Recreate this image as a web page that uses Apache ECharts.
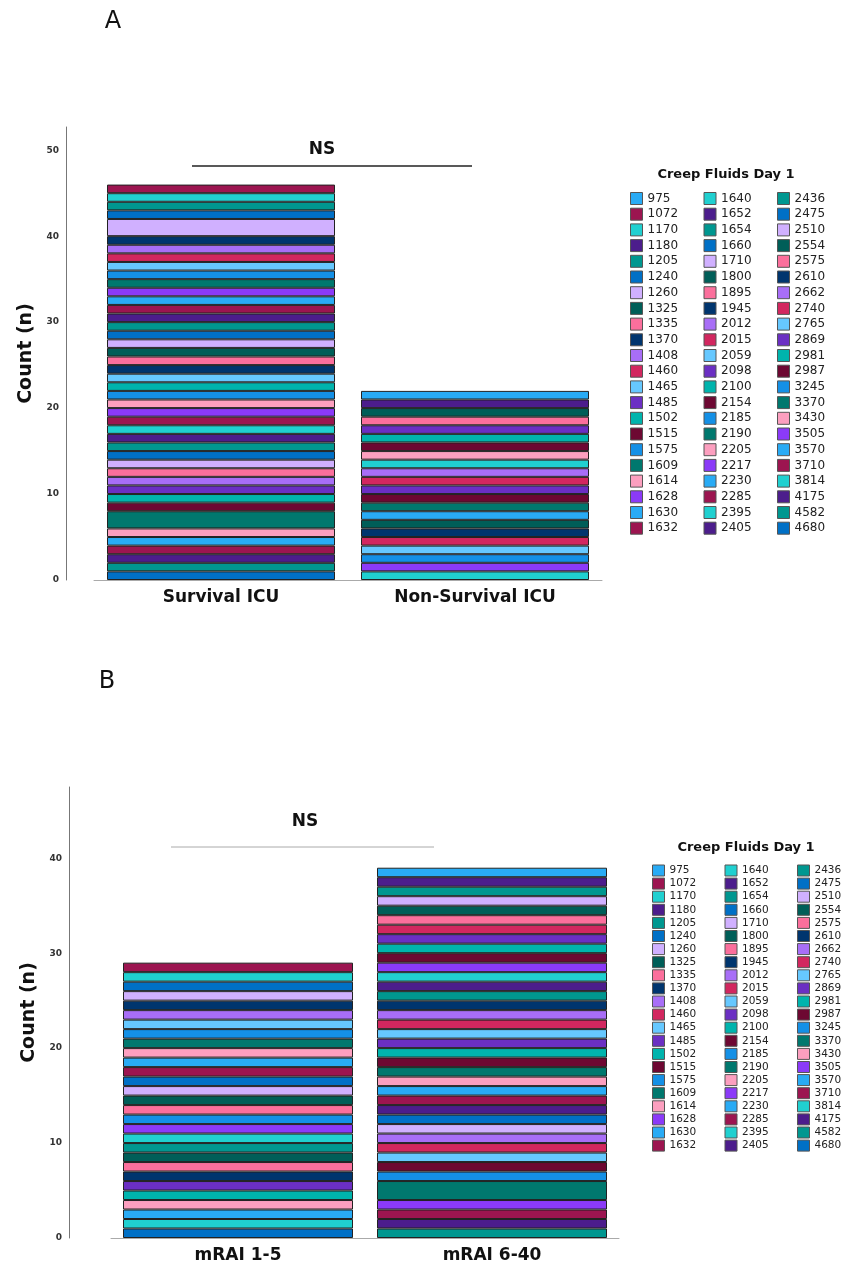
<!DOCTYPE html>
<html>
<head>
<meta charset="utf-8">
<script src="https://cdn.jsdelivr.net/npm/echarts@6/dist/echarts.min.js"></script>
<style>
  html, body { margin: 0; padding: 0; background: #fff; }
  #chart { width: 842px; height: 1271px; }
</style>
</head>
<body>
<div id="chart"></div>
<script>
// Creep fluids day 1 values (legend order)
const fluids = [
  975, 1072, 1170, 1180, 1205, 1240, 1260, 1325, 1335, 1370,
  1408, 1460, 1465, 1485, 1502, 1515, 1575, 1609, 1614, 1628,
  1630, 1632, 1640, 1652, 1654, 1660, 1710, 1800, 1895, 1945,
  2012, 2015, 2059, 2098, 2100, 2154, 2185, 2190, 2205, 2217,
  2230, 2285, 2395, 2405, 2436, 2475, 2510, 2554, 2575, 2610,
  2662, 2740, 2765, 2869, 2981, 2987, 3245, 3370, 3430, 3505,
  3570, 3710, 3814, 4175, 4582, 4680
];

// counts per fluid value, same order as fluids
const survivalICU = [
  0, 1, 1, 0, 1, 1, 2, 0, 0, 1,
  1, 1, 1, 0, 0, 0, 1, 1, 0, 1,
  1, 1, 0, 1, 1, 1, 1, 1, 1, 1,
  0, 0, 1, 0, 1, 0, 1, 0, 1, 1,
  0, 1, 1, 1, 1, 1, 1, 0, 1, 0,
  1, 0, 0, 1, 1, 1, 0, 2, 1, 0,
  1, 1, 0, 1, 1, 1
];
const nonSurvivalICU = [
  1, 0, 0, 1, 0, 0, 0, 1, 1, 0,
  0, 0, 0, 1, 1, 1, 0, 0, 1, 0,
  0, 0, 1, 0, 0, 0, 0, 0, 0, 0,
  1, 1, 0, 1, 0, 1, 0, 1, 0, 0,
  1, 0, 0, 0, 0, 0, 0, 1, 0, 1,
  0, 1, 1, 0, 0, 0, 1, 0, 0, 1,
  0, 0, 1, 0, 0, 0
];
const mrai1to5 = [
  0, 1, 1, 0, 0, 1, 1, 0, 0, 1,
  1, 0, 1, 0, 0, 0, 1, 1, 1, 0,
  1, 1, 0, 0, 0, 1, 1, 1, 1, 0,
  0, 0, 0, 0, 0, 0, 1, 0, 0, 1,
  0, 0, 1, 0, 1, 0, 0, 1, 1, 1,
  0, 0, 0, 1, 1, 0, 0, 0, 1, 0,
  1, 0, 1, 0, 0, 1
];
const mrai6to40 = [
  1, 0, 0, 1, 1, 0, 1, 1, 1, 0,
  0, 1, 0, 1, 1, 1, 0, 0, 0, 1,
  0, 0, 1, 1, 1, 0, 0, 0, 0, 1,
  1, 1, 1, 1, 1, 1, 0, 1, 1, 0,
  1, 1, 0, 1, 0, 1, 1, 0, 0, 0,
  1, 1, 1, 0, 0, 1, 1, 2, 0, 1,
  0, 1, 0, 1, 1, 0
];

const groupsA = ["Survival ICU", "Non-Survival ICU"];
const groupsB = ["mRAI 1-5", "mRAI 6-40"];

// SPSS style palette, repeats every 20 categories
const palette = [
  "#29abf5", "#9c1550", "#20d0d0", "#4c1d8c", "#009790",
  "#0070c6", "#d0b0ff", "#005e58", "#fb6f9c", "#00356e",
  "#a86ef7", "#d2275f", "#66c8ff", "#6b2fc3", "#00b4ad",
  "#6d0832", "#1490e6", "#00786e", "#fc9fbf", "#8b3af8"
];

const FONT = "DejaVu Sans";
const chart = echarts.init(document.getElementById("chart"));

// first category sits on top of the stack, so build series from the last one
const series = [];
for (let i = fluids.length - 1; i >= 0; i--) {
  const itemStyle = { color: palette[i % 20], borderColor: "#222", borderWidth: 1 };
  series.push({
    name: String(fluids[i]),
    type: "bar",
    stack: "A",
    xAxisIndex: 0,
    yAxisIndex: 0,
    barWidth: 228,
    itemStyle,
    data: [survivalICU[i] || null, nonSurvivalICU[i] || null],
  });
  series.push({
    name: String(fluids[i]),
    type: "bar",
    stack: "B",
    xAxisIndex: 1,
    yAxisIndex: 1,
    barWidth: 230,
    itemStyle,
    data: [mrai1to5[i] || null, mrai6to40[i] || null],
  });
}

const names = fluids.map(String);
const makeLegends = (left0, step, top, rowH, gap, fontSize) =>
  [0, 1, 2].map((c) => ({
    data: names.slice(c * 22, c * 22 + 22),
    orient: "vertical",
    left: left0 + c * step,
    top: top,
    padding: 0,
    icon: "rect",
    itemWidth: 12,
    itemHeight: rowH,
    itemGap: gap,
    itemStyle: { borderColor: "#555", borderWidth: 1 },
    textStyle: { fontFamily: FONT, fontSize: fontSize, color: "#222", lineHeight: rowH },
  }));

const yAxisBase = (max, offset, gap) => ({
  type: "value",
  min: 0,
  max: max,
  interval: 10,
  offset: offset,
  name: "Count (n)",
  nameLocation: "middle",
  nameGap: gap,
  nameTextStyle: { fontFamily: FONT, fontSize: 19, fontWeight: "bold", color: "#111" },
  axisLine: { show: true, lineStyle: { color: "#777", width: 1 } },
  axisTick: { show: false },
  splitLine: { show: false },
  axisLabel: {
    fontFamily: FONT,
    fontSize: 9,
    fontWeight: "bold",
    color: "#333",
    margin: 7,
    formatter: (v) => (v % 10 === 0 ? String(v) : ""),
  },
});

const xAxisBase = (cats) => ({
  type: "category",
  data: cats,
  axisTick: { show: false },
  axisLine: { show: true, lineStyle: { color: "#aaa", width: 1 } },
  axisLabel: { fontFamily: FONT, fontSize: 17, fontWeight: "bold", color: "#111", margin: 9 },
});

const text = (x, y, str, size, weight, color) => ({
  type: "text",
  x: x,
  y: y,
  style: {
    text: str,
    fontFamily: FONT,
    fontSize: size,
    fontWeight: weight,
    fill: color,
    align: "center",
    verticalAlign: "middle",
  },
});

const option = {
  animation: false,
  backgroundColor: "#fff",
  grid: [
    { left: 94, top: 127, width: 508, height: 453 },
    { left: 111, top: 787, width: 508, height: 451 },
  ],
  xAxis: [
    { ...xAxisBase(groupsA), gridIndex: 0 },
    { ...xAxisBase(groupsB), gridIndex: 1 },
  ],
  yAxis: [
    { ...yAxisBase(52.7, 28, 26), gridIndex: 0 },
    { ...yAxisBase(47.5, 42, 24), gridIndex: 1 },
  ],
  legend: [
    ...makeLegends(630, 73.5, 192, 12, 2.7, 12),
    ...makeLegends(652, 72.5, 864.5, 11, 1.1, 10.5),
  ],
  graphic: [
    text(113, 22, "A", 24, "normal", "#111"),
    text(107, 682, "B", 24, "normal", "#111"),
    text(322, 150, "NS", 17, "bold", "#111"),
    text(305, 822, "NS", 17, "bold", "#111"),
    text(726, 175, "Creep Fluids Day 1", 13, "bold", "#111"),
    text(746, 848, "Creep Fluids Day 1", 13, "bold", "#111"),
    { type: "line", shape: { x1: 192, y1: 166, x2: 472, y2: 166 }, style: { stroke: "#222", lineWidth: 1.3 } },
    { type: "line", shape: { x1: 171, y1: 847, x2: 434, y2: 847 }, style: { stroke: "#aaa", lineWidth: 1 } },
  ],
  series: series,
};

chart.setOption(option);
window.addEventListener("resize", () => chart.resize());
</script>
</body>
</html>
